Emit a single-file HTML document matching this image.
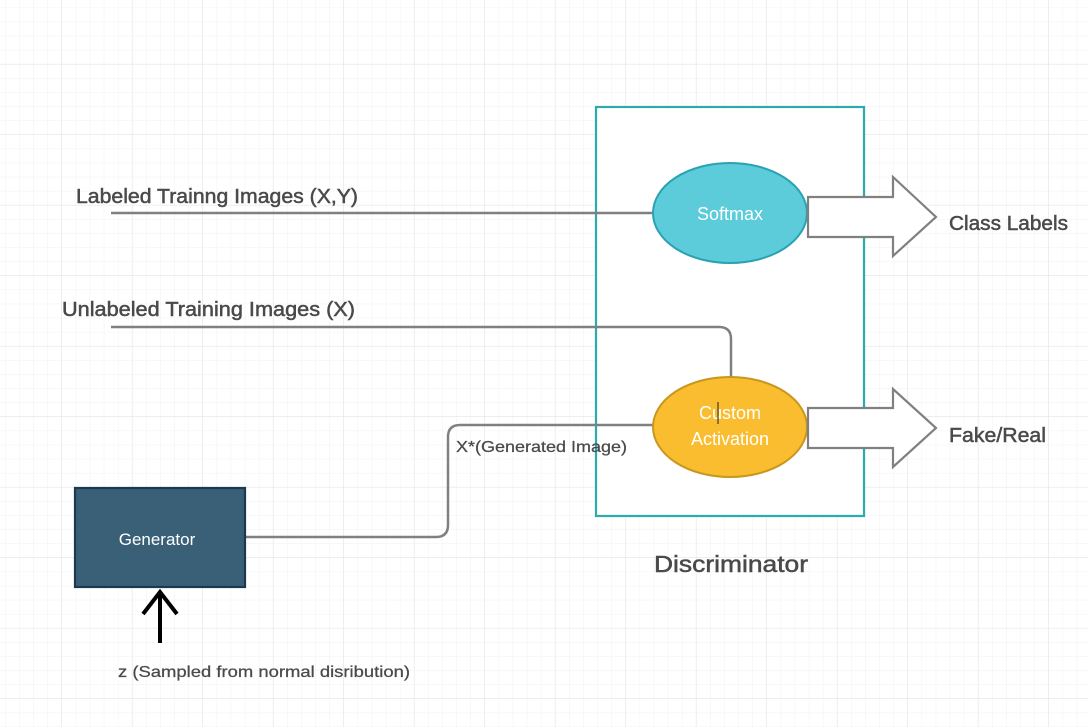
<!DOCTYPE html>
<html><head><meta charset="utf-8"><style>
html,body{margin:0;padding:0;background:#fff}
svg{display:block}
text{font-family:"Liberation Sans",sans-serif}
</style></head><body>
<svg width="1088" height="727" viewBox="0 0 1088 727" xmlns="http://www.w3.org/2000/svg">
<defs>
<pattern id="minor" x="-8.5" y="-6" width="14.1" height="14.1" patternUnits="userSpaceOnUse">
<path d="M14.1 0V14.1M0 14.1H14.1" stroke="#f1f1f1" stroke-width="1" fill="none"/>
</pattern>
<pattern id="major" x="-8.5" y="-6" width="70.5" height="70.5" patternUnits="userSpaceOnUse">
<path d="M70.5 0V70.5M0 70.5H70.5" stroke="#e4e4e4" stroke-width="1.3" fill="none"/>
</pattern>
</defs>
<rect width="1088" height="727" fill="#fff"/>
<rect width="1088" height="727" fill="url(#minor)"/>
<rect width="1088" height="727" fill="url(#major)"/>

<rect x="596" y="107" width="268" height="409" fill="#fff" stroke="#2aacac" stroke-width="2.2"/>

<g stroke="#808080" stroke-width="2.5" fill="none">
<path d="M111 213H653"/>
<path d="M111 327H719Q731 327 731 339V377"/>
<path d="M245 537H436Q448 537 448 525V437Q448 425 460 425H653"/>
</g>

<ellipse cx="730" cy="213" rx="77" ry="50" fill="#5ccbda" stroke="#2aa2b2" stroke-width="2"/>
<ellipse cx="730" cy="427" rx="77" ry="50" fill="#fbbd30" stroke="#c8971e" stroke-width="2"/>
<text x="730" y="220" fill="#fff" font-size="18" text-anchor="middle">Softmax</text>
<text x="730" y="419" fill="#fff" font-size="18" text-anchor="middle">Custom</text>
<text x="730" y="445" fill="#fff" font-size="18" text-anchor="middle">Activation</text>
<line x1="718" y1="402" x2="718" y2="424" stroke="#222" stroke-width="1"/>

<path d="M808 197H893V177L936 217L893 256V237H808Z" fill="#fff" stroke="#808080" stroke-width="2.2"/>
<path d="M808 408H893V389L936 428L893 467V448H808Z" fill="#fff" stroke="#808080" stroke-width="2.2"/>

<rect x="75" y="488" width="170" height="99" fill="#3a6078" stroke="#1b3a52" stroke-width="2.2"/>
<text x="157" y="545" fill="#fff" font-size="17" text-anchor="middle">Generator</text>
<path d="M160 643V592M143 614L160 592L177 614" stroke="#000" stroke-width="4" fill="none"/>

<g fill="#4a4a4a" stroke="#4a4a4a" stroke-width="0.5">
<text x="76" y="203" font-size="20" textLength="282" lengthAdjust="spacingAndGlyphs">Labeled Trainng Images (X,Y)</text>
<text x="62" y="316" font-size="20" textLength="293" lengthAdjust="spacingAndGlyphs">Unlabeled Training Images (X)</text>
<text x="949" y="230" font-size="20" textLength="119" lengthAdjust="spacingAndGlyphs">Class Labels</text>
<text x="949" y="442" font-size="20" textLength="97" lengthAdjust="spacingAndGlyphs">Fake/Real</text>
<text x="654" y="572" font-size="23" textLength="154" lengthAdjust="spacingAndGlyphs">Discriminator</text>
</g>
<g fill="#4a4a4a" stroke="#4a4a4a" stroke-width="0.25">
<text x="456" y="452" font-size="16" textLength="171" lengthAdjust="spacingAndGlyphs">X*(Generated Image)</text>
<text x="118" y="677" font-size="16" textLength="292" lengthAdjust="spacingAndGlyphs">z (Sampled from normal disribution)</text>
</g>
</svg>
</body></html>
